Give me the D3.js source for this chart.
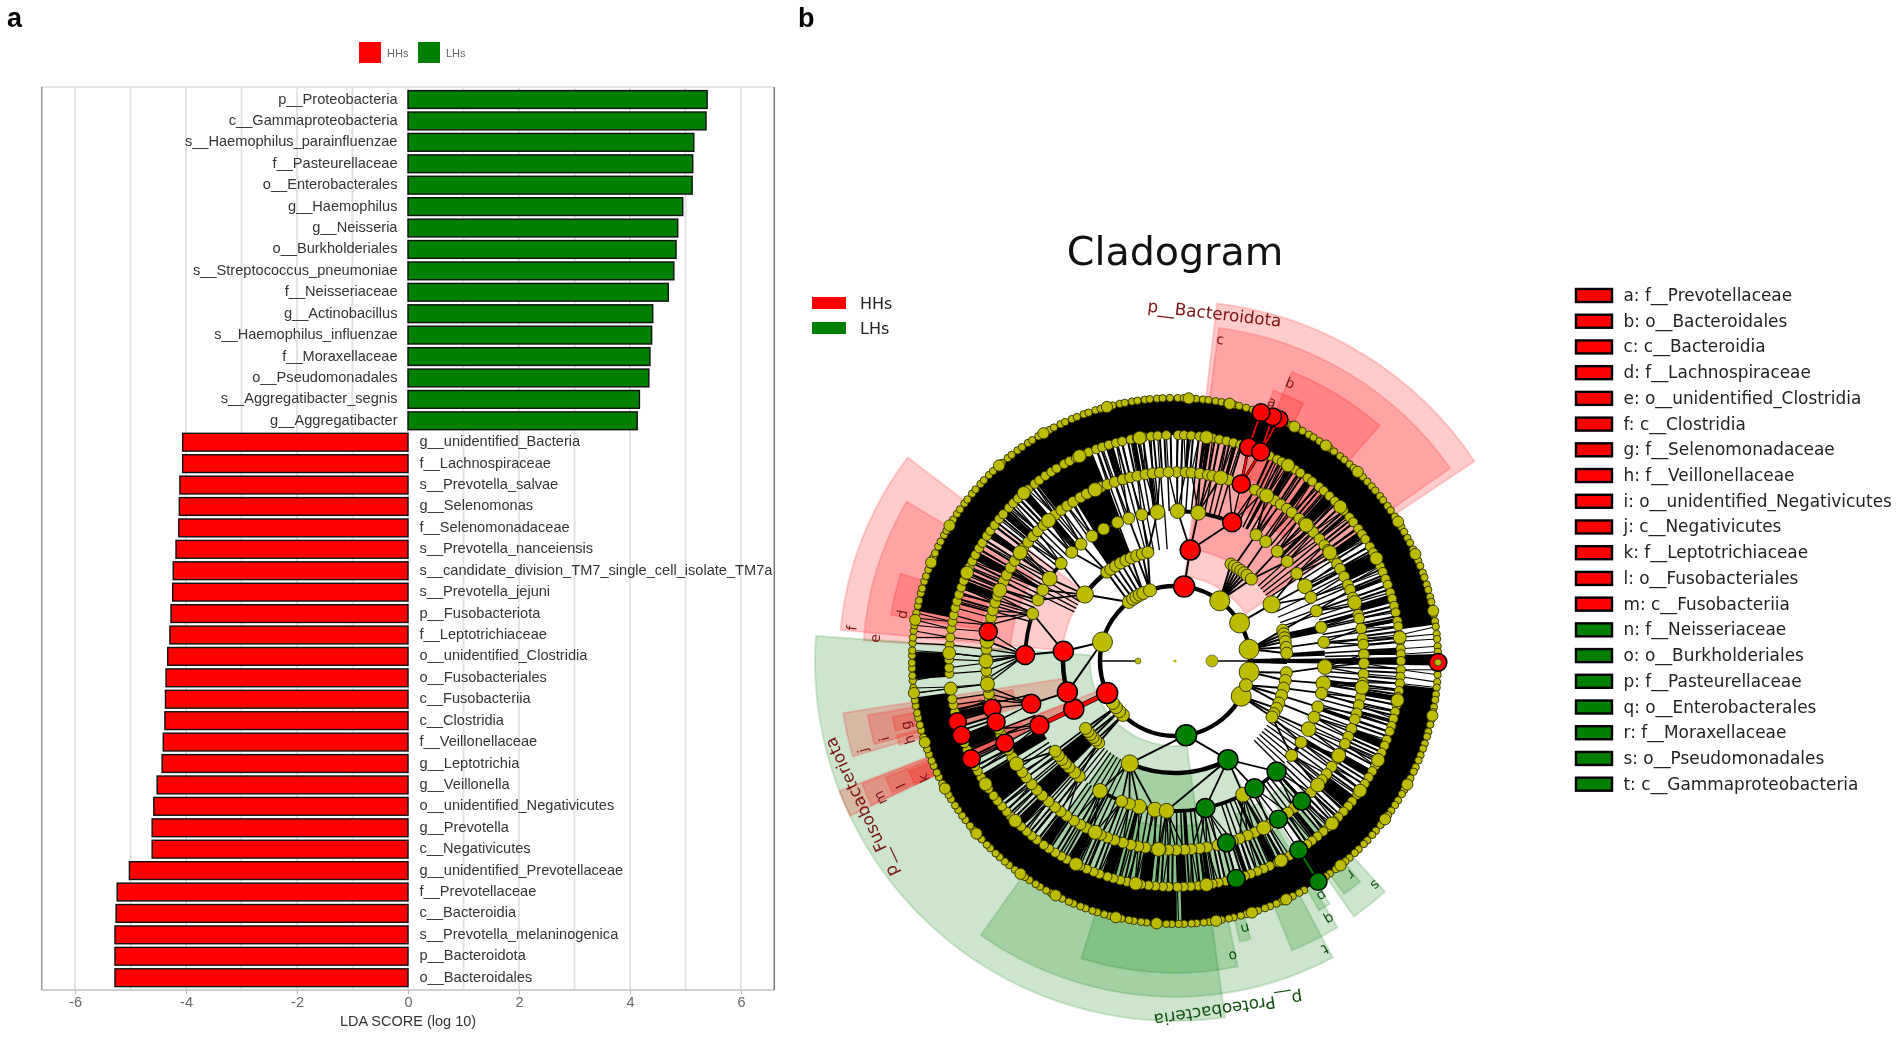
<!DOCTYPE html>
<html><head><meta charset="utf-8">
<script src="https://cdn.jsdelivr.net/npm/d3@7"></script>
<style>
html,body{margin:0;padding:0;background:#fff;overflow:hidden}
svg{display:block;filter:blur(.55px)}
</style></head><body>
<svg id="chart" width="1901" height="1037"></svg>
<script>
// ---------- panel a data ----------
const ldaTaxa = ["p__Proteobacteria","c__Gammaproteobacteria","s__Haemophilus_parainfluenzae","f__Pasteurellaceae","o__Enterobacterales","g__Haemophilus","g__Neisseria","o__Burkholderiales","s__Streptococcus_pneumoniae","f__Neisseriaceae","g__Actinobacillus","s__Haemophilus_influenzae","f__Moraxellaceae","o__Pseudomonadales","s__Aggregatibacter_segnis","g__Aggregatibacter","g__unidentified_Bacteria","f__Lachnospiraceae","s__Prevotella_salvae","g__Selenomonas","f__Selenomonadaceae","s__Prevotella_nanceiensis","s__candidate_division_TM7_single_cell_isolate_TM7a","s__Prevotella_jejuni","p__Fusobacteriota","f__Leptotrichiaceae","o__unidentified_Clostridia","o__Fusobacteriales","c__Fusobacteriia","c__Clostridia","f__Veillonellaceae","g__Leptotrichia","g__Veillonella","o__unidentified_Negativicutes","g__Prevotella","c__Negativicutes","g__unidentified_Prevotellaceae","f__Prevotellaceae","c__Bacteroidia","s__Prevotella_melaninogenica","p__Bacteroidota","o__Bacteroidales"];
const ldaScores = [5.39,5.37,5.15,5.13,5.12,4.95,4.86,4.83,4.79,4.69,4.41,4.39,4.36,4.34,4.17,4.13,-4.06,-4.06,-4.11,-4.12,-4.13,-4.18,-4.23,-4.24,-4.27,-4.29,-4.33,-4.36,-4.37,-4.38,-4.41,-4.43,-4.52,-4.58,-4.61,-4.61,-5.02,-5.24,-5.26,-5.28,-5.28,-5.28];
const ldaTicks = [-6,-4,-2,0,2,4,6];
const ldaGrid = [-6,-5,-4,-3,-2,-1,0,1,2,3,4,5,6];

// ---------- panel b legend ----------
const groups = ["HHs","LHs"];
const cladeKeys = ["a: f__Prevotellaceae","b: o__Bacteroidales","c: c__Bacteroidia","d: f__Lachnospiraceae","e: o__unidentified_Clostridia","f: c__Clostridia","g: f__Selenomonadaceae","h: f__Veillonellaceae","i: o__unidentified_Negativicutes","j: c__Negativicutes","k: f__Leptotrichiaceae","l: o__Fusobacteriales","m: c__Fusobacteriia","n: f__Neisseriaceae","o: o__Burkholderiales","p: f__Pasteurellaceae","q: o__Enterobacterales","r: f__Moraxellaceae","s: o__Pseudomonadales","t: c__Gammaproteobacteria"];
const cladeKeyGroups = ["HHs","HHs","HHs","HHs","HHs","HHs","HHs","HHs","HHs","HHs","HHs","HHs","HHs","LHs","LHs","LHs","LHs","LHs","LHs","LHs"];

// ---------- panel b shaded clades: [label, group, rank, startAngle, endAngle] ----------
const cladeWedges = [
 ["p__Bacteroidota","HHs",1,6.7,56.3],["c","HHs",2,7.5,55],["b","HHs",3,22,41],["a","HHs",4,20,26.5],
 ["f","HHs",2,-84.7,-52.7],["e","HHs",3,-86.2,-59.3],["d","HHs",4,-80.8,-72.3],
 ["p__Proteobacteria","LHs",1,172,274],["t","LHs",2,152,215.3],["o","LHs",3,168.4,197.5],["n","LHs",4,164.8,167],
 ["q","LHs",3,148.6,158],["p","LHs",4,147.5,150],["s","LHs",3,137.7,145],["r","LHs",4,140,144],
 ["p__Fusobacteriota","HHs",1,244.5,248.8],["m","HHs",2,244.6,248.6],["l","HHs",3,245,248.1],["k","HHs",4,244.5,247.5],
 ["j","HHs",2,253.5,261.1],["i","HHs",3,254.5,260],["g","HHs",4,256,258.8],["h","HHs",4,253,255]
];
const longLabels = [["p__Bacteroidota",6.5,350,"HHs"],["p__Proteobacteria",171.3,352,"LHs"],["p__Fusobacteriota",245,346,"HHs"]];

// ---------- panel b tree: node angles per rank, degrees clockwise from north ----------
const rootNodes = [90,270];
const rank1 = [36.6,59.5,81,98.4,118,284.7];
const rank1Small = [108.8,224,228,232,236,322,326,329,332,335,340.5];
const rank2 = [59.6,306.4];
const rank2Small = [30,32,34,36,38,40,43,74,76,78,80,83,86,96,100,104,108,112,115,118,120,223,225,227,229,231,233,322.5,325,328,331,334,337,340,343,346];
const rank3 = [1,8.9,60.1,92.3,98.6,117,153,187.7,193.9,210,303.3,353.3];
const rank3Small = [32.7,37.2,43,48.4,54.3,64.9,70.5,77,82.8,102.4,107.8,112,122.8,129,197.7,200.8,219.7,222,225,227,229,231,233,288.4,294,298.2,310.6,316.5,321.2,326.4,331.6,337.5,342,347.2];
const rank4 = [0.5,3.2,5,7.6,10,11.4,13.8,16.5,25,27.4,28.9,31.8,34,36.3,38.2,41.1,43,45.7,47,49.8,52.2,54,56.7,59,60.8,63.5,66.2,67.9,70.4,73,75.8,77,80.1,83.2,85,88,90.7,94,96.6,99,101.2,103.5,106.1,108,111,113.6,116,119.2,121,124,126.7,129,131.4,134,141,143.3,150.2,152.6,155,157.4,160,162.2,167,170.3,172.5,175,177.1,179.6,182,184.3,186,189,191.2,193.5,196,198.7,201,203.1,205.6,208,210,212.3,215,217.2,219.4,222,224.6,227,229.3,232,234,237.2,239.4,242,247,249,258.2,260,262.1,264.6,267,269.4,271.2,273.6,276,281,283.3,285.5,288,290.2,292.4,295,297.1,299.6,302,304.2,306.5,309,311.3,313.4,316,318.1,320.6,323,325.2,327.4,330,332.2,334.5,337,339.1,341.4,344,346.3,348.5,351,353.2,355.4,358];
const rank4Large = [14,29,44,55,72,98,120,131,152,185,205,237,263,270,276,292,305,318,335];
const rank5 = [0.8,2.3,4.1,6.2,7.7,9.6,11.3,13.2,15,16.8,24.8,26.9,28.2,30.4,32.1,33.7,35.9,37.4,39.6,41.2,43.1,45,46.8,48.3,50.5,52.1,54.2,55.9,57.4,59.6,61.3,63,65.2,66.8,68.7,70.3,72.4,74,75.9,77.6,79.8,81.2,83.4,85,86.9,88.3,90,92.2,94,95.7,97.6,99.1,101.3,103,104.8,106.7,108.2,110.4,112,113.9,115.5,117.6,119.2,121,122.9,124.6,126.3,128.4,130,131.8,133.7,135.2,137.3,139,140.9,142.7,144.2,149.5,151.3,153,155.2,156.9,158.6,160.4,162,167,168.9,170.4,172.6,174.1,176,177.8,179.4,181.6,183.1,185,186.7,188.6,190.2,192.3,194,195.8,197.4,199.5,201.1,203,204.8,206.4,208.6,210.2,212,213.9,215.5,217.7,219.3,221,222.9,224.5,226.6,228.2,230,231.8,233.4,235.6,237.1,239,240.8,242.3,246.8,248.7,256.9,258.8,260.3,263.4,266.8,268.3,270.4,272,274.1,276,278.2,280,281.7,283.6,285.3,287.1,289,290.8,292.4,294.6,296.2,298,299.9,301.5,303.6,305.2,307,308.9,310.5,312.7,314.3,316,317.8,319.4,321.6,323.1,325,326.8,328.4,330.6,332.2,334,335.9,337.5,339.6,341.2,343,344.9,346.5,348.7,350.3,352,353.9,355.6,357.8];
const rank5Large = [8,30,47,63,84,100,116,125,136,152,172,190,206,225,237,263,272,293,318,335,351];
const rank6 = [0.6,1.9,3.4,4.6,6.1,7.3,8.9,10.2,11.4,13,14.1,15.7,17.2,25,26.2,27.8,29,30.6,31.8,33.3,34.5,36.1,37.2,38.9,40.1,41.6,42.8,44.3,45.6,47,48.4,49.6,51.2,52.3,53.9,55.1,56.7,57.8,59.4,60.6,62.1,63.3,64.9,66,67.6,68.8,70.4,71.5,73.1,74.3,75.9,77,78.6,79.8,81.3,82.5,84.1,85.2,86.8,88,91.9,93,94.6,95.8,97.3,98.5,100.1,101.2,102.8,104,105.6,106.7,108.3,109.5,111,112.2,113.8,114.9,116.5,117.7,119.3,120.4,122,123.2,124.7,125.9,127.5,128.6,130.2,131.4,133,134.1,135.7,136.9,138.4,139.6,141.2,142.3,143.9,145,150.6,151.8,153.4,154.5,156.1,157.3,158.8,160,161.6,162.7,164.3,165.5,167.1,168.2,169.8,171,172.5,173.7,175.3,176.4,178,179.2,180.7,181.9,183.5,184.6,186.2,187.4,189,190.1,191.7,192.9,194.4,195.6,197.2,198.3,199.9,201.1,202.7,203.8,205.4,206.6,208.1,209.3,210.9,212,213.6,214.8,216.4,217.5,219.1,220.3,221.8,223,224.6,225.7,227.3,228.5,230.1,231.2,232.8,234,235.5,236.7,238.3,239.4,241,242.2,243.8,244.9,246.5,247.7,249.2,250.4,252,253.1,254.7,255.9,257.5,258.6,260.2,261.4,262.9,264.1,265.7,266.8,268.4,269.6,271.2,272.3,273.9,275.1,276.6,277.8,279.4,280.5,282.1,283.3,284.9,286,287.6,288.8,290.3,291.5,293.1,294.2,295.8,297,298.6,299.7,301.3,302.5,304,305.2,306.8,307.9,309.5,310.7,312.3,313.4,315,316.2,317.7,318.9,320.5,321.6,323.2,324.4,326,327.1,328.7,329.9,331.4,332.6,334.2,335.3,336.9,338.1,339.7,340.8,342.4,343.6,345.1,346.3,347.9,349,350.6,351.8,353.4,354.5,356.1,357.3,358.9];
const rank6Large = [3,12,27,35,44,58,66,79,102,118,127,141,155,163,171,184,193,207,216,229,241,252,263,279,292,301,318,330,345];
// explicit nodes: [rank, angle, parent angle, clade, branch drawn in the clade colour]
const keyNodes = [
 [1,7,null,"HHs",false],[2,7.8,7,"HHs",false],[3,22.4,7.8,"HHs",false],[4,20.5,22.4,"HHs",false],[5,19,20.5,"HHs",true],[5,22.3,20.5,"HHs",true],[6,23.3,22.3,"HHs",true],[6,21.8,22.3,"HHs",true],[6,19.1,19,"HHs",true],
 [1,244.8,null,"HHs",false],[2,244.6,244.8,"HHs",true],[3,244.6,244.6,"HHs",true],[4,244.2,244.6,"HHs",false],[5,244.4,244.2,"HHs",false],
 [2,275,284.7,"HHs",false],[3,272.3,275,"HHs",false],[4,278.9,272.3,"HHs",false],
 [2,253.9,284.7,"HHs",false],[3,253.4,253.9,"HHs",false],[4,255.5,253.4,"HHs",false],[4,251.2,253.4,"HHs",false],[5,254.4,255.5,"HHs",false],[5,250.8,251.2,"HHs",false],
 [6,90.3,90,"HHs",false],
 [1,171.5,null,"LHs",false],[2,151.8,171.5,"LHs",false],[3,168.3,151.8,"LHs",false],[3,148,151.8,"LHs",false],[3,137.4,151.8,"LHs",false],[4,164.2,168.3,"LHs",false],[4,146.8,148,"LHs",false],[4,137.9,137.4,"LHs",false],[5,164.3,164.2,"LHs",false],[5,146.8,146.8,"LHs",false],[6,147,146.8,"LHs",true],
 [2,203.8,171.5,"none",false],[3,183.2,151.8,"none",false]
];
// angular spans where the branches merge into solid black, per gap between two ranks
const dense12 = [[88.5,91.5]];
const dense23 = [[89,91],[76,79],[86,88],[225,232],[325,337]];
const dense34 = [[89,91],[298,299],[318,320],[328,339],[352,353],[28,29],[45,46],[61,62],[75,76],[97,98],[108,109],[121,122],[137,138],[155,156],[176,177],[194,195],[207,208],[223,228],[239,243]];
const dense45 = [[89,91],[289,291],[297,299],[304,305.5],[310,312],[317,319],[322,338],[342,344],[349,350],[3,3.8],[8,9],[15,16],[30,31.5],[36,37],[42,45],[49,50],[55,57],[61,65],[68,69],[73,75],[79,80],[87,88],[99,100],[105,106],[111,113],[119,121],[127,131],[141,142],[153,155],[161,162],[171,172],[177,179],[186,189],[196,199],[206,208],[214,217],[223,225],[231,239],[247,251],[255,257]];
const dense56 = [[0,82],[88.5,91],[96,178.6],[179.6,262],[266,272],[281,360]];
const sparseSpans = [[258,284]];
const twigs23 = [48,50,52,54,56,64,67,70,72,119,121,123,125,127,129,131,133,135,205,207,209,211,213,215,217,219,221,296,298,300,302,345,347,349,352,356];

// ---------- drawing ----------
const svg = d3.select("#chart");
const RED="#ff0000", GREEN="#007f00", YEL="#bcbc00";
const groupColor = d3.scaleOrdinal(groups,[RED,GREEN]);
const labelColor = d3.scaleOrdinal(groups,["#7a1414","#0f4f0f"]);

// panel letters
svg.append("text").attr("x",7).attr("y",27).text("a").attr("font-family","Liberation Sans").attr("font-weight","bold").attr("font-size",27).attr("fill","#000");
svg.append("text").attr("x",798).attr("y",27).text("b").attr("font-family","Liberation Sans").attr("font-weight","bold").attr("font-size",27).attr("fill","#000");

// --- panel a
const x = d3.scaleLinear().domain([-6,6]).range([75,741]);
const y = d3.scaleBand().domain(ldaTaxa).range([88.8,988.4]).paddingInner(.17).paddingOuter(.085);
const plot = {l:x(-6.6),r:x(6.6),t:87,b:990};
const gridG = svg.append("g");
gridG.selectAll("line").data(ldaGrid).join("line").attr("x1",d=>x(d)).attr("x2",d=>x(d)).attr("y1",plot.t).attr("y2",plot.b).attr("stroke","#e4e4e4").attr("stroke-width",2);
svg.append("line").attr("x1",plot.l).attr("x2",plot.r).attr("y1",plot.t).attr("y2",plot.t).attr("stroke","#dddddd").attr("stroke-width",1.5);
svg.append("line").attr("x1",plot.l).attr("x2",plot.r).attr("y1",plot.b).attr("y2",plot.b).attr("stroke","#d0d0d0").attr("stroke-width",2);
svg.append("line").attr("x1",plot.l).attr("x2",plot.l).attr("y1",plot.t).attr("y2",plot.b).attr("stroke","#999").attr("stroke-width",1.5);
svg.append("line").attr("x1",plot.r).attr("x2",plot.r).attr("y1",plot.t).attr("y2",plot.b).attr("stroke","#777").attr("stroke-width",1.5);
svg.append("g").selectAll("rect").data(ldaTaxa).join("rect")
 .attr("x",(d,i)=>x(Math.min(0,ldaScores[i]))).attr("width",(d,i)=>Math.abs(x(ldaScores[i])-x(0)))
 .attr("y",d=>y(d)).attr("height",y.bandwidth())
 .attr("fill",(d,i)=>ldaScores[i]>0?GREEN:RED).attr("stroke","#111").attr("stroke-width",1.4);
svg.append("g").selectAll("text").data(ldaTaxa).join("text")
 .attr("x",(d,i)=>ldaScores[i]>0?397.5:419.5).attr("y",d=>y(d)+y.bandwidth()/2+4)
 .attr("text-anchor",(d,i)=>ldaScores[i]>0?"end":"start")
 .attr("font-family","Liberation Sans").attr("font-size",14.6).attr("fill","#333").text(d=>d);
const axis = svg.append("g").attr("transform",`translate(0,${plot.b})`).call(d3.axisBottom(x).tickValues(ldaTicks).tickFormat(d=>String(d)).tickSize(4));
axis.select(".domain").remove();
axis.selectAll("line").attr("stroke","#bbb");
axis.selectAll("text").attr("font-family","Liberation Sans").attr("font-size",14.5).attr("fill","#666").attr("dy",".7em");
svg.append("text").attr("x",x(0)).attr("y",1030-4.5).attr("text-anchor","middle").attr("font-family","Liberation Sans").attr("font-size",14.5).attr("fill","#333").text("LDA SCORE (log 10)");
// top legend
const legA = svg.append("g").selectAll("g").data(groups).join("g").attr("transform",(d,i)=>`translate(${359+i*59},42)`);
legA.append("rect").attr("width",22).attr("height",21).attr("fill",d=>groupColor(d));
legA.append("text").attr("x",28).attr("y",15).attr("font-family","Liberation Sans").attr("font-size",11).attr("fill","#666").text(d=>d);

// --- panel b
const cx=1175, cy=661;
const clade = svg.append("g").attr("transform",`translate(${cx},${cy})`);
const rad = d3.scaleLinear().domain([0,360]).range([0,2*Math.PI]);
const ringR = d3.scaleOrdinal([0,1,2,3,4,5,6],[37,75,112,150,189,226,263]);
const wedgeOuter = d3.scaleOrdinal([1,2,3,4],[360,336,312,288]);
const wedgeInner = d3.scaleOrdinal([1,2,3,4],[85,113,165,197]);
const wedgeArc = d3.arc();
clade.append("g").selectAll("path").data(cladeWedges).join("path")
 .attr("d",d=>wedgeArc({innerRadius:wedgeInner(d[2]),outerRadius:wedgeOuter(d[2]),startAngle:rad(d[3]),endAngle:rad(d[4])}))
 .attr("fill",d=>groupColor(d[1])).attr("fill-opacity",.2).attr("stroke",d=>groupColor(d[1])).attr("stroke-opacity",.16).attr("stroke-width",2);

// dense branch sectors
[[dense12,1],[dense23,2],[dense34,3],[dense45,4],[dense56,5]].forEach(([spans,k])=>{
 clade.append("g").selectAll("path").data(spans).join("path")
  .attr("d",d=>wedgeArc({innerRadius:ringR(k),outerRadius:ringR(k+1),startAngle:rad(d[0]),endAngle:rad(d[1])}))
  .attr("fill","#000");
});
// fine bundles of deeper branches that cross the lower gaps
const inSparse=a=>sparseSpans.some(s=>a>=s[0]&&a<=s[1]);
[[rank6,4,2],[rank5,3,1.5],[twigs23,2,1.3]].forEach(([arr,k,w])=>{
 clade.append("g").selectAll("line").data(arr.filter(a=>!inSparse(a))).join("line")
  .attr("x1",a=>d3.pointRadial(rad(a),ringR(k))[0]).attr("y1",a=>d3.pointRadial(rad(a),ringR(k))[1])
  .attr("x2",a=>d3.pointRadial(rad(a),ringR(k+1))[0]).attr("y2",a=>d3.pointRadial(rad(a),ringR(k+1))[1])
  .attr("stroke","#000").attr("stroke-width",w);
});

// assemble nodes
const allNodes=[];
const nodeR=d3.scaleOrdinal([1,2,3,4,5,6],[10,8.6,7.4,5.4,4.6,3.7]);
const smallR=d3.scaleOrdinal([1,2,3],[6.5,6,6]);
const largeR=d3.scaleOrdinal([4,5,6],[7,6.5,5.6]);
[[rank1,1],[rank2,2],[rank3,3],[rank4,4],[rank5,5],[rank6,6]].forEach(([arr,k])=>arr.forEach(a=>allNodes.push({k,a,clade:"none",size:nodeR(k)})));
[[rank1Small,1],[rank2Small,2],[rank3Small,3]].forEach(([arr,k])=>arr.forEach(a=>allNodes.push({k,a,clade:"none",size:smallR(k)})));
[[rank4Large,4],[rank5Large,5],[rank6Large,6]].forEach(([arr,k])=>arr.forEach(a=>allNodes.push({k,a,clade:"none",size:largeR(k)})));
keyNodes.forEach(n=>allNodes.push({k:n[0],a:n[1],parent:n[2],clade:n[3],key:n[3]!=="none",tint:n[4],size:nodeR(n[0])}));
const byRank=k=>allNodes.filter(n=>n.k===k);
const circ=(a,b)=>((a-b+540)%360)-180;
allNodes.forEach(n=>{
 if(n.k===1) return;
 if(n.parent===undefined){
  n.parent=d3.least(byRank(n.k-1),p=>Math.abs(circ(n.a,p.a))).a;
 }
});
const pt=(k,a)=>d3.pointRadial(rad(a),ringR(k));
const edgeW=d3.scaleOrdinal([2,3,4,5,6],[2,1.8,1.4,1.2,1.1]);
const arcW=d3.scaleOrdinal([2,3,4,5,6],[4.5,3.8,2.6,1.8,1.2]);
const edges=allNodes.filter(n=>n.k>1);
const linePath=d3.line();
clade.append("g").selectAll("path").data(edges).join("path")
 .attr("d",n=>linePath([pt(n.k,n.a),pt(n.k-1,n.parent)]))
 .attr("stroke","#000").attr("fill","none").attr("stroke-width",n=>n.tint?edgeW(n.k)+(n.k<4?3.2:1.8):edgeW(n.k));
clade.append("circle").attr("r",ringR(1)).attr("fill","none").attr("stroke","#000").attr("stroke-width",4.5);
d3.groups(edges,n=>n.k,n=>n.parent).forEach(([k,parents])=>{
 parents.forEach(([p,kids])=>{
  const ds=kids.map(c=>circ(c.a,p));
  const a0=p+d3.min(ds), a1=p+d3.max(ds);
  if(a1-a0<.05) return;
  clade.append("path").attr("d",wedgeArc({innerRadius:ringR(k)-arcW(k)/2,outerRadius:ringR(k)+arcW(k)/2,startAngle:rad(a0),endAngle:rad(a1)})).attr("fill","#000");
 });
});
// coloured branches
clade.append("g").selectAll("path").data(edges.filter(n=>n.tint)).join("path")
 .attr("d",n=>linePath([pt(n.k,n.a),pt(n.k-1,n.parent)]))
 .attr("stroke",n=>groupColor(n.clade)).attr("fill","none").attr("stroke-width",n=>n.k<4?edgeW(n.k)+2:edgeW(n.k)+.6);
// root stems
clade.append("g").selectAll("line").data(rootNodes).join("line")
 .attr("x1",d=>pt(0,d)[0]).attr("y1",d=>pt(0,d)[1]).attr("x2",d=>pt(1,d)[0]).attr("y2",d=>pt(1,d)[1]).attr("stroke","#000").attr("stroke-width",1.5);
clade.append("circle").attr("r",1.6).attr("fill",YEL);
clade.append("g").selectAll("circle").data(rootNodes).join("circle")
 .attr("cx",d=>pt(0,d)[0]).attr("cy",d=>pt(0,d)[1]).attr("r",d=>d===90?6:3).attr("fill",YEL).attr("stroke","#444").attr("stroke-width",.6);
// nodes
const keyR=d3.scaleOrdinal([1,2,3,4,5,6],[10.5,10,9.5,9,9,8.8]);
clade.append("g").selectAll("circle").data(allNodes.filter(n=>!n.key).sort((a,b)=>b.k-a.k)).join("circle")
 .attr("cx",n=>pt(n.k,n.a)[0]).attr("cy",n=>pt(n.k,n.a)[1]).attr("r",n=>n.size)
 .attr("fill",YEL).attr("stroke","#2e2e00").attr("stroke-width",.9);
clade.append("g").selectAll("circle").data(allNodes.filter(n=>n.key)).join("circle")
 .attr("cx",n=>pt(n.k,n.a)[0]).attr("cy",n=>pt(n.k,n.a)[1]).attr("r",n=>keyR(n.k))
 .attr("fill",n=>groupColor(n.clade)).attr("stroke","#000").attr("stroke-width",1.5);
clade.append("circle").attr("cx",pt(6,90.3)[0]).attr("cy",pt(6,90.3)[1]).attr("r",3.5).attr("fill",YEL).attr("stroke","#333").attr("stroke-width",.8);

// wedge letters and phylum labels
const letters=cladeWedges.filter(d=>d[0].length===1);
clade.append("g").selectAll("text").data(letters).join("text")
 .attr("transform",d=>{const a=d[3]+.5,p=d3.pointRadial(rad(a),wedgeOuter(d[2])-11);return `translate(${p[0]},${p[1]}) rotate(${a})`;})
 .attr("text-anchor","middle").attr("dy",".35em").attr("font-family","DejaVu Sans").attr("font-size",14).attr("fill",d=>labelColor(d[1])).text(d=>d[0]);
clade.append("g").selectAll("text").data(longLabels).join("text")
 .attr("transform",d=>{const p=d3.pointRadial(rad(d[1]),d[2]);return `translate(${p[0]},${p[1]}) rotate(${d[1]})`;})
 .attr("text-anchor","middle").attr("dy",".35em").attr("font-family","DejaVu Sans").attr("font-size",16.8).attr("fill",d=>labelColor(d[3])).text(d=>d[0]);

svg.append("text").attr("x",cx).attr("y",265).attr("text-anchor","middle").attr("font-family","DejaVu Sans").attr("font-size",39.6).attr("fill","#111").text("Cladogram");
const legB=svg.append("g").selectAll("g").data(groups).join("g").attr("transform",(d,i)=>`translate(812,${297+i*25})`);
legB.append("rect").attr("width",34).attr("height",12).attr("fill",d=>groupColor(d));
legB.append("text").attr("x",48).attr("y",12).attr("font-family","DejaVu Sans").attr("font-size",16).attr("fill","#222").text(d=>d);
const legC=svg.append("g").selectAll("g").data(cladeKeys).join("g").attr("transform",(d,i)=>`translate(1576,${289+i*25.72})`);
legC.append("rect").attr("width",36).attr("height",13).attr("fill",(d,i)=>groupColor(cladeKeyGroups[i])).attr("stroke","#000").attr("stroke-width",2.4);
legC.append("text").attr("x",47.5).attr("y",12).attr("font-family","DejaVu Sans").attr("font-size",16.9).attr("fill","#222").text(d=>d);
</script>
</body></html>
